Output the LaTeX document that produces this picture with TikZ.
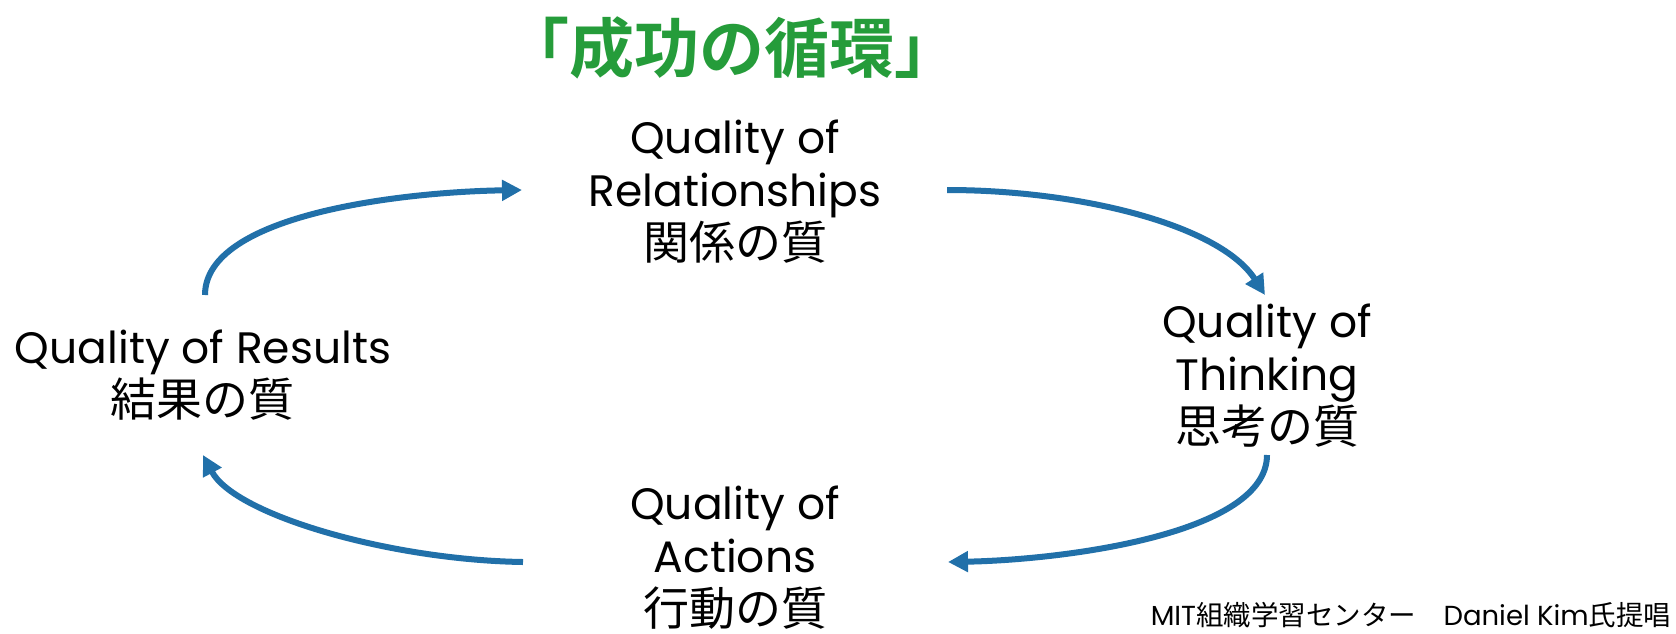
\documentclass[tikz,border=0pt]{standalone}
\usepackage{fontspec}
\setmainfont{Poppins}
\newfontfamily\jp{Noto Sans CJK JP}
\newfontfamily\jpbold{Noto Sans CJK JP Bold}
\usetikzlibrary{arrows.meta}
\definecolor{arrowblue}{HTML}{2170A9}
\definecolor{titlegreen}{HTML}{259C3A}
\newcommand{\jpl}[1]{{\jp\fontsize{46}{53}\selectfont #1}}
\begin{document}
\begin{tikzpicture}[x=1pt,y=-1pt,
  lbl/.style={align=center, font=\fontsize{44}{53}\selectfont, inner sep=0pt},
  cyc/.style={line width=6pt, draw=arrowblue, -{Triangle[length=20pt,width=20pt]}}]
\useasboundingbox[fill=white] (0,0) rectangle (1676,633);

\node[inner sep=0pt, text=titlegreen, font=\fontsize{65}{68}\selectfont\jpbold] (title) at (732,48) {「成功の循環」};

\node[lbl] (rel) at (735,192) {Quality of\\Relationships\\\jpl{関係の質}};
\node[lbl] (thk) at (1267,376) {Quality of\\Thinking\\\jpl{思考の質}};
\node[lbl] (act) at (735,558) {Quality of\\Actions\\\jpl{行動の質}};
\node[lbl] (res) at (203,375) {Quality of Results\\\jpl{結果の質}};

\node[inner sep=0pt, font=\fontsize{27.5}{30}\selectfont] (credit) at (1411,615) {MIT{\jp 組織学習センター　}Daniel Kim{\jp 氏提唱}};

\coordinate (a1s) at (205,295);
\coordinate (a1e) at (522,190);
\coordinate (a2s) at (947,190);
\coordinate (a2e) at (1265,295);
\coordinate (a3s) at (1267,455);
\coordinate (a3e) at (948,562);
\coordinate (a4s) at (523,562);
\coordinate (a4e) at (203,455);

\draw[cyc] (a1s) .. controls (205,215) and (400,192) .. (a1e);
\draw[cyc] (a2s) .. controls (1080,190) and (1220,225) .. (a2e);
\draw[cyc] (a3s) .. controls (1267,535) and (1060,560) .. (a3e);
\draw[cyc] (a4s) .. controls (390,560) and (235,515) .. (a4e);
\end{tikzpicture}
\end{document}
